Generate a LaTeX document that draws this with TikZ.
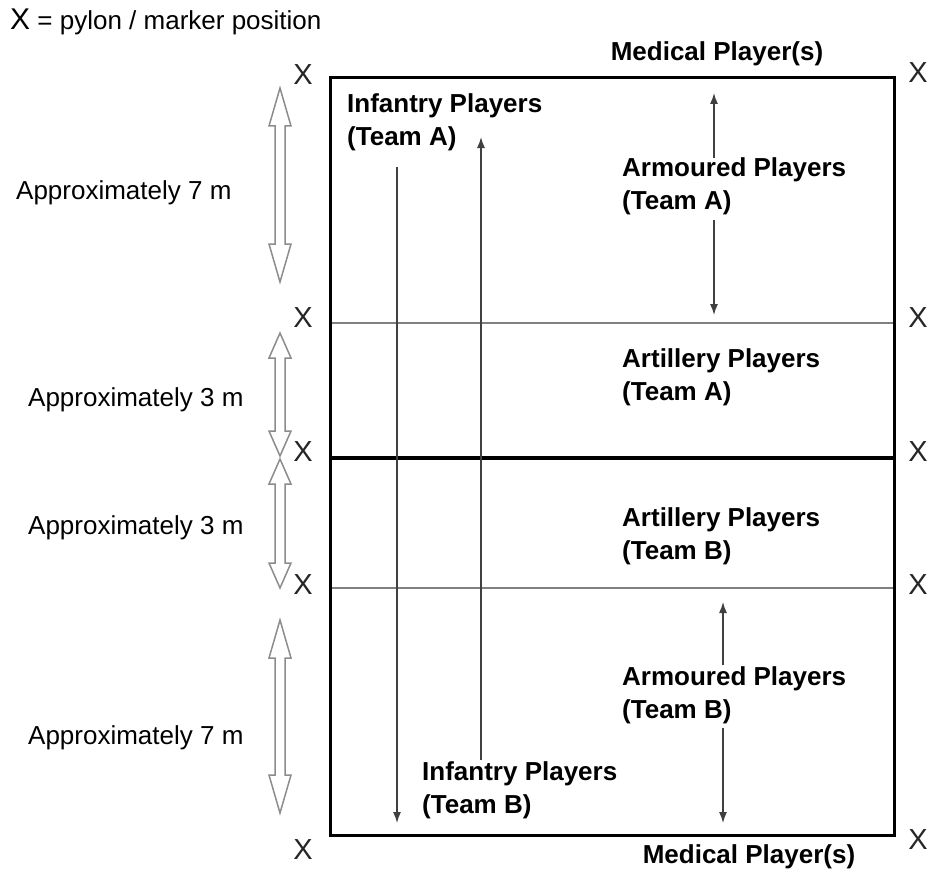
\documentclass[tikz,border=0pt]{standalone}
\usepackage{fontspec}
\setmainfont{Liberation Sans}
\usetikzlibrary{arrows.meta, positioning}

\begin{document}
\begin{tikzpicture}[x=1pt, y=-1pt,
    every node/.style={font=\fontsize{26}{33}\selectfont, inner sep=0pt},
    player/.style={font=\fontsize{26}{33}\selectfont\bfseries, align=left, anchor=west},
    marker/.style={font=\fontsize{29}{29}\selectfont, text=black!85},
    flow/.style={-{Latex[length=11pt, width=8pt]}, line width=1.3pt, draw=black!75},
    dist/.style={draw=black!45, line width=1.5pt, line join=miter}]
    \useasboundingbox (0,0) rectangle (931,872);

    % Field divisions
    \draw[black!50, line width=1.5pt] (330,323) -- (894,323);
    \draw[black!50, line width=1.5pt] (330,588) -- (894,588);
    \draw[line width=4pt] (330,458) -- (894,458);
    \draw[line width=3pt] (330,78) rectangle (894,835);

    % Pylons
    \foreach \i/\yl/\yr in {1/75/73, 2/318/318, 3/452/452, 4/585/585, 5/850/840} {
        \node[marker] (xl\i) at (303,\yl) {X};
        \node[marker] (xr\i) at (918,\yr) {X};
    }

    % Distance arrows
    \foreach \t/\b/\h in {88/282/38, 333/456/25, 459/588/25, 620/813/38} {
        \draw[dist] (280,\t) -- (291,\t+\h) -- (285,\t+\h) -- (285,\b-\h) -- (291,\b-\h)
            -- (280,\b) -- (269,\b-\h) -- (275,\b-\h) -- (275,\t+\h) -- (269,\t+\h) -- cycle;
    }
    \node[anchor=west] (dist1) at (16,193) {Approximately 7 m};
    \node[anchor=west] (dist2) at (28,400) {Approximately 3 m};
    \node[anchor=west] (dist3) at (28,528) {Approximately 3 m};
    \node[anchor=west] (dist4) at (28,738) {Approximately 7 m};

    % Legend
    \node[anchor=west] (legend) at (10,22) {{\fontsize{30}{30}\selectfont X} = pylon / marker position};

    % Players
    \node[player] (infA) at (347,122) {Infantry Players\\(Team A)};
    \node[player] (infB) at (422,790) {Infantry Players\\(Team B)};
    \node[player] (armA) at (622,186) {Armoured Players\\(Team A)};
    \node[player] (artA) at (622,377) {Artillery Players\\(Team A)};
    \node[player] (artB) at (622,536) {Artillery Players\\(Team B)};
    \node[player] (armB) at (622,695) {Armoured Players\\(Team B)};
    \node[font=\fontsize{26}{33}\selectfont\bfseries] (medA) at (717,54) {Medical Player(s)};
    \node[font=\fontsize{26}{33}\selectfont\bfseries] (medB) at (749,857) {Medical Player(s)};

    % Movement
    \coordinate (infAfrom) at (397,167);
    \coordinate (infAto) at (397,823);
    \coordinate (infBfrom) at (481,760);
    \coordinate (infBto) at (481,137);
    \coordinate (armAup) at (714,158);
    \coordinate (armAtop) at (714,93);
    \coordinate (armAdown) at (714,220);
    \coordinate (armAbot) at (714,315);
    \coordinate (armBup) at (723,665);
    \coordinate (armBtop) at (723,602);
    \coordinate (armBdown) at (723,728);
    \coordinate (armBbot) at (723,823);
    \draw[flow] (infAfrom) -- (infAto);
    \draw[flow] (infBfrom) -- (infBto);
    \draw[flow] (armAup) -- (armAtop);
    \draw[flow] (armAdown) -- (armAbot);
    \draw[flow] (armBup) -- (armBtop);
    \draw[flow] (armBdown) -- (armBbot);
\end{tikzpicture}
\end{document}
